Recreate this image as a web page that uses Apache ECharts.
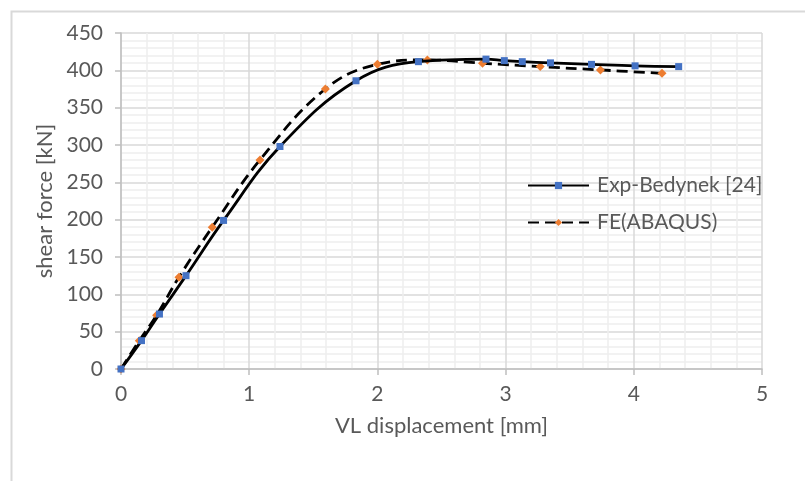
<!DOCTYPE html>
<html>
<head>
<meta charset="utf-8">
<script src="https://cdn.jsdelivr.net/npm/echarts@6/dist/echarts.min.js"></script>
<style>
html,body{margin:0;padding:0;background:#fff;}
#chart{width:805px;height:481px;}
</style>
</head>
<body>
<div id="chart"></div>
<script>
// ---- data ----
var seriesNames = ['Exp-Bedynek [24]', 'FE(ABAQUS)'];
var expX = [0, 0.16, 0.30, 0.507, 0.80, 1.24, 1.833, 2.32, 2.847, 2.99, 3.13, 3.35, 3.67, 4.01, 4.35];
var expY = [0, 38, 73.6, 125, 199, 298, 386, 411.6, 415, 413, 411.6, 410, 408, 406, 405];
var feX = [0, 0.143, 0.278, 0.452, 0.712, 1.084, 1.594, 2.0, 2.39, 2.82, 3.27, 3.74, 4.22];
var feY = [0, 38, 72, 123, 190, 280, 375, 408, 414, 409.5, 405, 400.5, 396];
var xTicks = [0, 1, 2, 3, 4, 5];
var yTicks = [0, 50, 100, 150, 200, 250, 300, 350, 400, 450];
var xTitle = 'VL displacement [mm]';
var yTitle = 'shear force [kN]';

function pairs(xs, ys) { return xs.map(function (x, i) { return [x, ys[i]]; }); }

var FONT = 'Lato';
var TXT = '#595959';
var chart = echarts.init(document.getElementById('chart'), null, {renderer: 'canvas'});
chart.setOption({
  animation: false,
  backgroundColor: '#fff',
  graphic: [{
    type: 'rect', left: 9, top: 9, z: -10,
    shape: {width: 900, height: 600},
    style: {fill: 'none', stroke: '#d9d9d9', lineWidth: 2}
  }],
  grid: {left: 121, right: 43, top: 33, bottom: 112},
  legend: {
    orient: 'vertical', left: 527, top: 175, padding: 0,
    itemWidth: 61, itemHeight: 9, itemGap: 16,
    textStyle: {fontFamily: FONT, fontSize: 21, color: TXT, padding: [0, 0, 0, 3]},
    data: seriesNames
  },
  xAxis: {
    type: 'value',
    min: xTicks[0], max: xTicks[xTicks.length - 1], interval: xTicks[1] - xTicks[0],
    name: xTitle, nameLocation: 'middle', nameGap: 46,
    nameTextStyle: {fontFamily: FONT, fontSize: 22, color: TXT},
    axisLine: {show: true, lineStyle: {color: '#bfbfbf', width: 1.5}},
    axisTick: {show: true, length: 6, lineStyle: {color: '#bfbfbf', width: 1.5}},
    axisLabel: {fontFamily: FONT, fontSize: 21, color: TXT, margin: 15},
    splitLine: {show: true, lineStyle: {color: '#d9d9d9', width: 1.5}},
    minorTick: {show: false, splitNumber: 5},
    minorSplitLine: {show: true, lineStyle: {color: '#eeeeee', width: 1.5}}
  },
  yAxis: {
    type: 'value',
    min: yTicks[0], max: yTicks[yTicks.length - 1], interval: yTicks[1] - yTicks[0],
    name: yTitle, nameLocation: 'middle', nameGap: 59, nameRotate: 90,
    nameTextStyle: {fontFamily: FONT, fontSize: 22, color: TXT},
    axisLine: {show: true, lineStyle: {color: '#bfbfbf', width: 1.5}},
    axisTick: {show: true, length: 6, lineStyle: {color: '#bfbfbf', width: 1.5}},
    axisLabel: {fontFamily: FONT, fontSize: 21, color: TXT, margin: 18},
    splitLine: {show: true, lineStyle: {color: '#d9d9d9', width: 1.5}},
    minorTick: {show: false, splitNumber: 5},
    minorSplitLine: {show: true, lineStyle: {color: '#eeeeee', width: 1.5}}
  },
  series: [{
    name: seriesNames[0], type: 'line', data: pairs(expX, expY),
    smooth: 0.4, symbol: 'rect', symbolSize: 7, z: 3,
    itemStyle: {color: '#4472C4'},
    lineStyle: {color: '#000', width: 2.8}
  }, {
    name: seriesNames[1], type: 'line', data: pairs(feX, feY),
    smooth: 0.4, symbol: 'diamond', symbolSize: 9, z: 2,
    itemStyle: {color: '#ED7D31'},
    lineStyle: {color: '#000', width: 2.8, type: [11, 6]}
  }]
});
</script>
</body>
</html>
